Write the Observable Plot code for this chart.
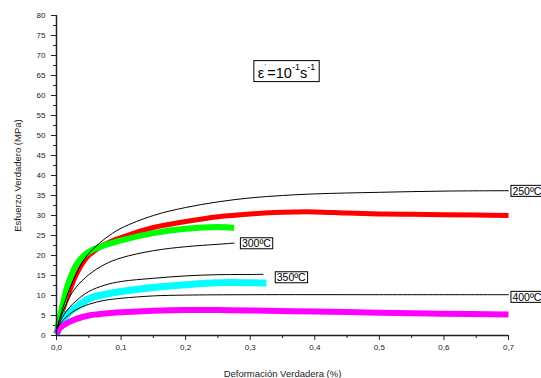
<!DOCTYPE html>
<html>
<head>
<meta charset="utf-8">
<script src="https://cdn.jsdelivr.net/npm/d3@7"></script>
<script src="https://cdn.jsdelivr.net/npm/@observablehq/plot@0.6"></script>
<style>
  html, body { margin: 0; padding: 0; background: #fff; }
  svg { display: block; }
</style>
</head>
<body>
<div id="chart"></div>
<script>
// ---- Data ----
// Fitted model curves (black)
const fit250X = [0, 0.005, 0.01, 0.02, 0.03, 0.04, 0.05, 0.075, 0.1, 0.15, 0.2, 0.25, 0.3, 0.35, 0.4, 0.5, 0.6, 0.7];
const fit250Y = [1.5, 4.3, 7, 11.5, 15.2, 18.3, 20.5, 24.2, 26.8, 30, 32, 33.4, 34.4, 35, 35.4, 35.8, 36.1, 36.2];
const fit300X = [0, 0.005, 0.01, 0.02, 0.03, 0.05, 0.075, 0.1, 0.15, 0.2, 0.25, 0.275];
const fit300Y = [1.5, 3.8, 6, 9.5, 12, 15.2, 17.8, 19.4, 21.2, 22.2, 22.8, 23.1];
const fit350X = [0, 0.005, 0.01, 0.02, 0.03, 0.05, 0.075, 0.1, 0.15, 0.2, 0.25, 0.3, 0.32];
const fit350Y = [1.5, 3.3, 4.8, 7, 8.6, 11, 12.6, 13.5, 14.3, 14.9, 15.2, 15.25, 15.3];
const fit400X = [0, 0.005, 0.01, 0.02, 0.03, 0.05, 0.075, 0.1, 0.15, 0.2, 0.3, 0.5, 0.7];
const fit400Y = [1.5, 2.8, 3.8, 5.3, 6.4, 7.8, 8.8, 9.3, 9.9, 10.1, 10.2, 10.2, 10.2];

// Experimental curves (thick coloured)
const exp250X = [0, 0.005, 0.01, 0.02, 0.03, 0.04, 0.05, 0.075, 0.1, 0.15, 0.2, 0.25, 0.3, 0.35, 0.4, 0.45, 0.5, 0.55, 0.6, 0.65, 0.7];
const exp250Y = [0.5, 3.5, 6.5, 11, 15, 18, 20, 22.8, 24.5, 27, 28.5, 29.7, 30.4, 30.8, 30.9, 30.6, 30.4, 30.3, 30.2, 30.1, 30];
const exp300X = [0, 0.005, 0.01, 0.015, 0.02, 0.03, 0.04, 0.05, 0.06, 0.075, 0.1, 0.15, 0.2, 0.25, 0.275];
const exp300Y = [0.5, 4.5, 8, 11.3, 13.8, 17.5, 19.6, 20.9, 21.7, 22.6, 23.8, 25.6, 26.7, 27.1, 26.9];
const exp350X = [0, 0.005, 0.01, 0.02, 0.03, 0.05, 0.075, 0.1, 0.15, 0.2, 0.25, 0.3, 0.325];
const exp350Y = [0.3, 2.2, 3.8, 5.8, 7, 9.2, 10.3, 11, 12, 12.7, 13.2, 13.2, 13.1];
const exp400X = [0, 0.005, 0.01, 0.02, 0.03, 0.05, 0.075, 0.1, 0.15, 0.2, 0.25, 0.3, 0.4, 0.5, 0.6, 0.7];
const exp400Y = [0.5, 1.8, 2.5, 3.4, 4.1, 5, 5.5, 5.8, 6.2, 6.4, 6.35, 6.25, 6, 5.7, 5.45, 5.25];

const expColors = ["#ff0000", "#00ff00", "#00ffff", "#ff00ff"];

// Curve labels
const labelText = ["250ºC", "300ºC", "350ºC", "400ºC"];
const labelX = [0.703, 0.284, 0.338, 0.703];
const labelY = [36, 22.9, 14.4, 9.5];

// Annotation
const rateX = 0.357;
const rateY = 65.6;

// Ticks
const xMajor = [0, 0.1, 0.2, 0.3, 0.4, 0.5, 0.6, 0.7];
const xMajorLabels = ["0,0", "0,1", "0,2", "0,3", "0,4", "0,5", "0,6", "0,7"];
const xMinor = [0.05, 0.15, 0.25, 0.35, 0.45, 0.55, 0.65];
const yMajor = [0, 5, 10, 15, 20, 25, 30, 35, 40, 45, 50, 55, 60, 65, 70, 75, 80];
const yMajorLabels = ["0", "5", "10", "15", "20", "25", "30", "35", "40", "45", "50", "55", "60", "65", "70", "75", "80"];
const yMinor = [2.5, 7.5, 12.5, 17.5, 22.5, 27.5, 32.5, 37.5, 42.5, 47.5, 52.5, 57.5, 62.5, 67.5, 72.5, 77.5];

// ---- Build tables ----
const toRows = (xs, ys) => xs.map((x, i) => ({x, y: ys[i]}));
const fits = [toRows(fit250X, fit250Y), toRows(fit300X, fit300Y), toRows(fit350X, fit350Y), toRows(fit400X, fit400Y)];
const exps = [toRows(exp250X, exp250Y), toRows(exp300X, exp300Y), toRows(exp350X, exp350Y), toRows(exp400X, exp400Y)];
const expWidths = [5, 6, 7, 6];
const labels = labelText.map((t, i) => ({t, x: labelX[i], y: labelY[i]}));

const font = "'Liberation Sans', Arial, sans-serif";

const plot = Plot.plot({
  width: 541,
  height: 378,
  marginLeft: 56,
  marginRight: 33,
  marginTop: 15,
  marginBottom: 43,
  style: {fontFamily: font, fontSize: "8px", background: "#fff", color: "#222"},
  x: {domain: [0, 0.7]},
  y: {domain: [0, 80]},
  marks: [
    Plot.axisX({ticks: xMinor, tickSize: 3, tickFormat: () => "", label: null, stroke: "#222"}),
    Plot.axisX({ticks: xMajor, tickSize: 5, tickPadding: 4, tickFormat: d => xMajorLabels[xMajor.indexOf(d)],
      label: "Deformación Verdadera (%)", labelAnchor: "center", labelArrow: "none", labelOffset: 41, fontSize: 8, stroke: "#222"}),
    Plot.axisY({ticks: yMinor, tickSize: 3, tickFormat: () => "", label: null, stroke: "#222"}),
    Plot.axisY({ticks: yMajor, tickSize: 5, tickPadding: 6, tickFormat: d => yMajorLabels[yMajor.indexOf(d)],
      label: "Esfuerzo Verdadero (MPa)", labelAnchor: "center", labelArrow: "none", labelOffset: 42, fontSize: 8, stroke: "#222"}),
    ...exps.map((rows, i) => Plot.line(rows, {x: "x", y: "y", stroke: expColors[i], strokeWidth: expWidths[i], curve: "catmull-rom", strokeLinecap: "butt"})),
    ...fits.map(rows => Plot.line(rows, {x: "x", y: "y", stroke: "#000", strokeWidth: 1, curve: "catmull-rom"})),
    Plot.ruleY([0], {stroke: "#222", strokeWidth: 1.5}),
    Plot.ruleX([0], {stroke: "#222", strokeWidth: 1.5}),
    Plot.text(labels, {x: "x", y: "y", text: "t", textAnchor: "start", fontSize: 10.5, fill: "#000", dx: 2})
  ]
});

document.getElementById("chart").appendChild(plot);

const svg = d3.select(plot);
// axis title font size
svg.selectAll("[aria-label='x-axis label'] text, [aria-label='y-axis label'] text").attr("font-size", 9.5);

// Boxes behind curve labels
svg.selectAll("text").filter(function () { return labelText.includes(this.textContent); }).each(function () {
  const b = this.getBBox();
  const tr = this.getAttribute("transform");
  const r = d3.select(this.parentNode).insert("rect", () => this)
    .attr("x", b.x - 1.5).attr("y", b.y + 0.5)
    .attr("width", b.width + 3).attr("height", b.height - 1)
    .attr("fill", "#fff").attr("stroke", "#000").attr("stroke-width", 1);
  if (tr) r.attr("transform", tr);
});

// Strain-rate annotation
const sx = plot.scale("x").apply(rateX);
const sy = plot.scale("y").apply(rateY);
const g = svg.append("g");
const t = g.append("text")
  .attr("x", sx).attr("y", sy)
  .attr("text-anchor", "middle")
  .attr("dominant-baseline", "central")
  .attr("font-family", font)
  .attr("font-size", 14.5)
  .attr("fill", "#000");
t.append("tspan").text("ε");
t.append("tspan").attr("font-size", 9).attr("dy", -5).text("˙");
t.append("tspan").attr("dy", 5).text("=10");
t.append("tspan").attr("font-size", 9).attr("dy", -6).text("-1");
t.append("tspan").attr("dy", 6).text("s");
t.append("tspan").attr("font-size", 9).attr("dy", -6).text("-1");
const tb = t.node().getBBox();
g.insert("rect", "text")
  .attr("x", tb.x - 4).attr("y", tb.y - 1)
  .attr("width", tb.width + 8).attr("height", tb.height + 2)
  .attr("fill", "#fff").attr("stroke", "#000").attr("stroke-width", 1);
</script>
</body>
</html>
